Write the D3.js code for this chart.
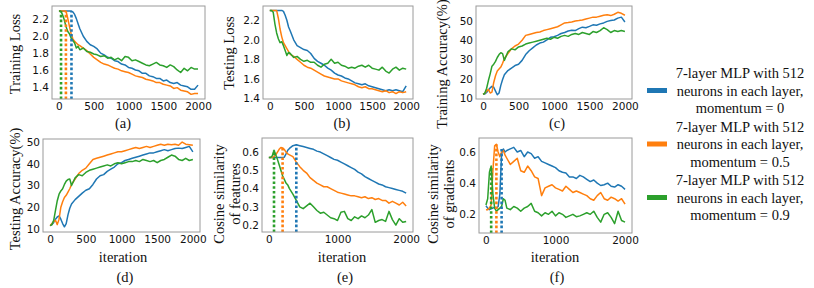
<!DOCTYPE html>
<html>
<head>
<meta charset="utf-8">
<script src="https://cdn.jsdelivr.net/npm/d3@7"></script>
<style>
	body { margin: 0; background: #fff; }
	svg { display: block; }
	.tick text { font-family: "DejaVu Sans", sans-serif; font-size: 10.5px; fill: #111; }
	.lbl { font-family: "Liberation Serif", "Times New Roman", serif; font-size: 14.5px; fill: #111; }
</style>
</head>
<body>
<svg id="chart" width="814" height="288"></svg>
<script>
// iteration grid the curves were read at
const iters = [0, 25, 50, 75, 100, 125, 150, 175, 200, 225, 250, 275, 300,
	350, 400, 450, 500, 550, 600, 650, 700, 750, 800,
	850, 900, 950, 1000, 1050, 1100, 1150, 1200, 1250, 1300,
	1350, 1400, 1450, 1500, 1550, 1600, 1650, 1700, 1750, 1800,
	1850, 1900, 1950, 2000]

const seriesNames = [
	['7-layer MLP with 512', 'neurons in each layer,', 'momentum = 0'],
	['7-layer MLP with 512', 'neurons in each layer,', 'momentum = 0.5'],
	['7-layer MLP with 512', 'neurons in each layer,', 'momentum = 0.9']
]
const colors = ['#1f77b4', '#ff7f0e', '#2ca02c']

// (a) training loss
const trainLoss0 = [2.30, 2.30, 2.30, 2.30, 2.30, 2.30, 2.30, 2.30, 2.29, 2.26, 2.21, 2.15, 2.09,
	2.00, 1.94, 1.90, 1.88, 1.85, 1.80, 1.78, 1.75, 1.74, 1.71,
	1.70, 1.67, 1.66, 1.63, 1.62, 1.60, 1.59, 1.56, 1.56, 1.53,
	1.52, 1.50, 1.50, 1.47, 1.48, 1.45, 1.44, 1.45, 1.42, 1.41,
	1.40, 1.37, 1.37, 1.42]
const trainLoss05 = [2.30, 2.30, 2.30, 2.30, 2.30, 2.22, 2.12, 2.03, 1.97, 1.94, 1.92, 1.90, 1.89,
	1.86, 1.83, 1.79, 1.75, 1.72, 1.69, 1.67, 1.66, 1.64, 1.62,
	1.61, 1.59, 1.58, 1.57, 1.55, 1.53, 1.52, 1.51, 1.49, 1.48,
	1.47, 1.45, 1.45, 1.43, 1.42, 1.41, 1.38, 1.39, 1.36, 1.35,
	1.34, 1.31, 1.32, 1.32]
const trainLoss09 = [2.30, 2.30, 2.26, 2.20, 2.12, 2.06, 2.03, 1.98, 1.95, 1.92, 1.86, 1.88, 1.84,
	1.86, 1.82, 1.81, 1.79, 1.78, 1.76, 1.77, 1.74, 1.75, 1.72,
	1.74, 1.71, 1.76, 1.75, 1.71, 1.72, 1.70, 1.68, 1.66, 1.65,
	1.67, 1.69, 1.66, 1.65, 1.63, 1.66, 1.64, 1.60, 1.57, 1.62,
	1.59, 1.63, 1.61, 1.61]
const trainLossMarks = [[180, 2.30], [100, 2.30], [30, 2.30]]

// (b) testing loss
const testLoss0 = [2.30, 2.30, 2.30, 2.30, 2.30, 2.30, 2.30, 2.30, 2.29, 2.25, 2.20, 2.13, 2.09,
	2.00, 1.94, 1.92, 1.90, 1.89, 1.86, 1.81, 1.78, 1.76, 1.74,
	1.71, 1.69, 1.66, 1.64, 1.63, 1.61, 1.60, 1.58, 1.56, 1.55,
	1.54, 1.55, 1.53, 1.52, 1.51, 1.50, 1.49, 1.48, 1.49, 1.48,
	1.49, 1.48, 1.47, 1.53]
const testLoss05 = [2.30, 2.30, 2.30, 2.30, 2.30, 2.22, 2.11, 2.03, 1.97, 1.94, 1.91, 1.88, 1.85,
	1.83, 1.80, 1.77, 1.74, 1.72, 1.71, 1.69, 1.67, 1.65, 1.63,
	1.62, 1.61, 1.60, 1.60, 1.58, 1.57, 1.56, 1.55, 1.54, 1.52,
	1.51, 1.52, 1.50, 1.50, 1.49, 1.48, 1.47, 1.48, 1.46, 1.47,
	1.45, 1.47, 1.46, 1.47]
const testLoss09 = [2.30, 2.30, 2.28, 2.16, 2.07, 2.01, 1.97, 1.98, 1.94, 1.89, 1.84, 1.87, 1.86,
	1.82, 1.83, 1.80, 1.78, 1.79, 1.77, 1.77, 1.74, 1.72, 1.75,
	1.76, 1.80, 1.76, 1.77, 1.74, 1.73, 1.71, 1.72, 1.71, 1.73,
	1.74, 1.72, 1.74, 1.71, 1.70, 1.69, 1.72, 1.68, 1.66, 1.70,
	1.72, 1.69, 1.71, 1.70]

// (c) training accuracy
const trainAcc0 = [11.8, 12.0, 12.8, 14.0, 15.2, 16.0, 15.5, 13.5, 11.6, 12.5, 16.5, 19.5, 22.0,
	24.2, 25.5, 26.8, 27.5, 29.5, 32.5, 34.5, 36.0, 37.5, 38.5,
	39.0, 40.2, 41.5, 41.8, 42.5, 43.5, 44.0, 44.8, 45.2, 45.0,
	46.0, 46.8, 46.5, 47.2, 48.0, 47.8, 48.5, 49.0, 49.8, 50.2,
	50.5, 51.5, 52.0, 49.5]
const trainAcc05 = [11.8, 12.5, 13.5, 14.5, 12.5, 13.0, 18.0, 21.5, 24.0, 25.0, 26.0, 28.0, 30.5,
	33.0, 35.5, 37.0, 38.0, 40.0, 42.5, 43.0, 43.5, 44.0, 44.3,
	45.0, 45.5, 46.0, 46.5, 47.0, 48.0, 49.0, 49.2, 49.5, 50.0,
	50.2, 50.5, 51.0, 51.5, 52.0, 52.0, 52.5, 53.0, 53.2, 52.8,
	53.5, 54.5, 54.0, 53.0]
const trainAcc09 = [11.8, 12.5, 15.0, 19.0, 22.5, 26.5, 27.5, 29.0, 31.0, 32.5, 33.5, 33.0, 29.5,
	34.0, 35.5, 35.0, 36.5, 37.0, 38.0, 38.5, 39.0, 39.5, 40.0,
	40.5, 41.0, 40.5, 41.5, 41.0, 42.0, 42.5, 42.0, 43.0, 43.5,
	43.0, 44.0, 43.5, 43.0, 44.5, 44.0, 45.0, 46.5, 45.5, 44.0,
	45.0, 44.5, 45.0, 44.5]

// (d) testing accuracy
const testAcc0 = [11.5, 12.0, 13.0, 14.5, 15.5, 16.0, 14.5, 12.5, 11.0, 12.5, 16.5, 19.5, 21.5,
	23.5, 25.0, 26.5, 27.8, 28.5, 30.5, 33.0, 34.5, 35.0, 36.5,
	37.5, 38.5, 40.0, 40.5, 41.5, 42.0, 42.5, 43.0, 43.5, 44.0,
	44.5, 45.0, 45.0, 45.5, 46.0, 46.5, 46.0, 46.5, 47.0, 47.2,
	47.0, 47.5, 48.0, 45.5]
const testAcc05 = [11.5, 12.5, 13.5, 14.0, 12.0, 14.5, 20.0, 22.5, 24.5, 25.5, 27.0, 28.5, 30.5,
	33.0, 35.5, 37.0, 38.0, 40.0, 42.0, 42.5, 43.0, 43.5, 44.0,
	44.5, 45.0, 45.5, 45.5, 46.0, 46.5, 47.0, 47.5, 47.0, 47.5,
	48.0, 47.5, 48.0, 48.5, 49.0, 48.5, 49.0, 48.8, 49.0, 48.5,
	50.0, 49.0, 48.8, 48.5]
const testAcc09 = [11.5, 12.0, 14.0, 18.5, 23.0, 26.0, 27.5, 28.5, 30.5, 32.0, 32.8, 33.0, 30.0,
	33.5, 35.0, 34.5, 36.0, 37.0, 37.5, 38.0, 38.5, 39.0, 39.5,
	39.0, 40.0, 40.5, 40.0, 40.5, 41.0, 41.0, 41.5, 41.0, 42.0,
	41.5, 41.0, 41.5, 40.5, 41.5, 42.0, 43.0, 44.0, 43.5, 42.0,
	41.5, 42.5, 41.5, 42.0]

// (e) cosine similarity of features
const cosFeat0 = [0.570, 0.570, 0.570, 0.570, 0.570, 0.570, 0.570, 0.570, 0.570, 0.572, 0.590, 0.610, 0.620,
	0.635, 0.640, 0.635, 0.630, 0.625, 0.620, 0.615, 0.605, 0.600, 0.590,
	0.580, 0.570, 0.560, 0.555, 0.545, 0.535, 0.525, 0.515, 0.505, 0.490,
	0.480, 0.465, 0.455, 0.445, 0.435, 0.425, 0.420, 0.410, 0.405, 0.400,
	0.395, 0.390, 0.385, 0.375]
const cosFeat05 = [0.570, 0.570, 0.570, 0.575, 0.585, 0.600, 0.615, 0.625, 0.622, 0.615, 0.600, 0.590, 0.585,
	0.575, 0.545, 0.520, 0.500, 0.485, 0.460, 0.445, 0.430, 0.420, 0.410,
	0.410, 0.400, 0.390, 0.380, 0.375, 0.370, 0.365, 0.360, 0.360, 0.355,
	0.350, 0.355, 0.345, 0.350, 0.340, 0.345, 0.335, 0.335, 0.320, 0.330,
	0.320, 0.310, 0.325, 0.305]
const cosFeat09 = [0.570, 0.570, 0.580, 0.610, 0.585, 0.560, 0.530, 0.500, 0.470, 0.450, 0.430, 0.420, 0.400,
	0.370, 0.335, 0.300, 0.290, 0.305, 0.320, 0.300, 0.280, 0.265, 0.270,
	0.255, 0.240, 0.235, 0.225, 0.270, 0.275, 0.235, 0.225, 0.245, 0.235,
	0.250, 0.240, 0.255, 0.285, 0.215, 0.225, 0.230, 0.220, 0.275, 0.230,
	0.200, 0.235, 0.215, 0.220]
const cosFeatMarks = [[400, 0.640], [200, 0.625], [75, 0.610]]

// (f) cosine similarity of gradients
const cosGrad0 = [0.255, 0.240, 0.230, 0.235, 0.240, 0.245, 0.240, 0.250, 0.330, 0.590, 0.620, 0.600, 0.610,
	0.620, 0.630, 0.600, 0.610, 0.570, 0.600, 0.590, 0.560, 0.570, 0.540,
	0.530, 0.520, 0.510, 0.500, 0.480, 0.470, 0.465, 0.440, 0.440, 0.430,
	0.450, 0.440, 0.425, 0.410, 0.420, 0.400, 0.385, 0.390, 0.400, 0.380,
	0.375, 0.390, 0.380, 0.360]
const cosGrad05 = [0.230, 0.230, 0.240, 0.260, 0.480, 0.640, 0.650, 0.600, 0.570, 0.600, 0.610, 0.580, 0.560,
	0.520, 0.540, 0.560, 0.480, 0.470, 0.510, 0.480, 0.440, 0.430, 0.320,
	0.370, 0.380, 0.390, 0.370, 0.360, 0.350, 0.380, 0.360, 0.340, 0.350,
	0.340, 0.330, 0.320, 0.300, 0.290, 0.320, 0.340, 0.300, 0.290, 0.310,
	0.300, 0.285, 0.300, 0.265]
const cosGrad09 = [0.260, 0.300, 0.470, 0.510, 0.330, 0.240, 0.220, 0.230, 0.240, 0.250, 0.300, 0.290, 0.240,
	0.230, 0.250, 0.240, 0.220, 0.240, 0.250, 0.270, 0.220, 0.210, 0.190,
	0.210, 0.200, 0.220, 0.190, 0.210, 0.200, 0.180, 0.190, 0.200, 0.185,
	0.190, 0.200, 0.210, 0.200, 0.220, 0.180, 0.150, 0.200, 0.210, 0.180,
	0.140, 0.220, 0.160, 0.150]
const cosGradMarks = [[225, 0.620], [150, 0.650], [75, 0.510]]

// tick labels
const xTicksFull = [0, 500, 1000, 1500, 2000]
const xTicksCoarse = [0, 1000, 2000]
const lossTicks = [1.4, 1.6, 1.8, 2.0, 2.2]
const accTicks = [10, 20, 30, 40, 50]
const cosFeatTicks = [0.2, 0.3, 0.4, 0.5, 0.6]
const cosGradTicks = [0.2, 0.4, 0.6]

const svg = d3.select('#chart')

// panel boxes (pixel layout) + what goes in them
const panels = [
	{ box: [52, 6, 205, 99], y: [1.255, 2.36], yTicks: lossTicks, fmt: '.1f', xTicks: xTicksFull,
		series: [trainLoss0, trainLoss05, trainLoss09], marks: trainLossMarks,
		ylabel: ['Training Loss'], ylx: [15], yly: 54, cap: '(a)', capPos: [123, 123] },
	{ box: [263, 6, 413, 99], y: [1.395, 2.345], yTicks: lossTicks, fmt: '.1f', xTicks: xTicksFull,
		series: [testLoss0, testLoss05, testLoss09],
		ylabel: ['Testing Loss'], ylx: [229], yly: 53, cap: '(b)', capPos: [342, 123] },
	{ box: [476, 6, 632, 99], y: [9.4, 57.8], yTicks: accTicks, fmt: 'd', xTicks: xTicksFull,
		series: [trainAcc0, trainAcc05, trainAcc09],
		ylabel: ['Training Accuracy(%)'], ylx: [442], yly: 64, cap: '(c)', capPos: [557, 123] },
	{ box: [43, 139, 200, 232], y: [8.6, 51.4], yTicks: accTicks, fmt: 'd', xTicks: xTicksFull,
		series: [testAcc0, testAcc05, testAcc09],
		ylabel: ['Testing Accuracy(%)'], ylx: [15], yly: 189, xlabel: 'iteration', xlPos: [123, 257],
		cap: '(d)', capPos: [125, 277] },
	{ box: [262, 138, 413, 232], y: [0.162, 0.677], yTicks: cosFeatTicks, fmt: '.1f', xTicks: xTicksCoarse,
		series: [cosFeat0, cosFeat05, cosFeat09], marks: cosFeatMarks,
		ylabel: ['Cosine similarity', 'of features'], ylx: [219, 235], yly: 194, xlabel: 'iteration', xlPos: [342, 257],
		cap: '(e)', capPos: [345, 277] },
	{ box: [479, 138, 632, 233], y: [0.08, 0.69], yTicks: cosGradTicks, fmt: '.1f', xTicks: xTicksCoarse,
		series: [cosGrad0, cosGrad05, cosGrad09], marks: cosGradMarks,
		ylabel: ['Cosine similarity', 'of gradients'], ylx: [433, 449], yly: 194, xlabel: 'iteration', xlPos: [555, 257],
		cap: '(f)', capPos: [557, 277] }
]

function drawPanel(p) {
	const [x0, y0, x1, y1] = p.box
	const x = d3.scaleLinear().domain([-100, 2100]).range([x0, x1])
	const y = d3.scaleLinear().domain(p.y).range([y1, y0])
	const g = svg.append('g')

	const line = d3.line()
		.x((d, i) => x(iters[i]))
		.y(d => y(d))

	p.series.forEach((s, k) => {
		g.append('path')
			.datum(s)
			.attr('fill', 'none')
			.attr('stroke', colors[k])
			.attr('stroke-width', 1.5)
			.attr('stroke-linejoin', 'round')
			.attr('d', line)
	})

	// dotted markers: from the bottom of the axes up to the curve
	if (p.marks) {
		p.marks.forEach((m, k) => {
			g.append('line')
				.attr('x1', x(m[0])).attr('x2', x(m[0]))
				.attr('y1', y1).attr('y2', y(m[1]))
				.attr('stroke', colors[k])
				.attr('stroke-width', 2.6)
				.attr('stroke-dasharray', '2.6,2.2')
		})
	}

	g.append('rect')
		.attr('x', x0).attr('y', y0)
		.attr('width', x1 - x0).attr('height', y1 - y0)
		.attr('fill', 'none')
		.attr('stroke', '#9a9a9a')
		.attr('stroke-width', 1)

	const ax = g.append('g')
		.attr('transform', `translate(0,${y1})`)
		.call(d3.axisBottom(x).tickValues(p.xTicks).tickSize(0).tickPadding(4).tickFormat(d3.format('d')))
	ax.select('.domain').remove()

	const ay = g.append('g')
		.attr('transform', `translate(${x0},0)`)
		.call(d3.axisLeft(y).tickValues(p.yTicks).tickSize(0).tickPadding(3).tickFormat(d3.format(p.fmt)))
	ay.select('.domain').remove()

	p.ylabel.forEach((t, i) => {
		g.append('text')
			.attr('class', 'lbl')
			.attr('transform', `translate(${p.ylx[i]},${p.yly}) rotate(-90)`)
			.attr('text-anchor', 'middle')
			.attr('dominant-baseline', 'central')
			.text(t)
	})

	if (p.xlabel) {
		g.append('text')
			.attr('class', 'lbl')
			.attr('x', p.xlPos[0]).attr('y', p.xlPos[1])
			.attr('text-anchor', 'middle')
			.attr('dominant-baseline', 'central')
			.text(p.xlabel)
	}

	g.append('text')
		.attr('class', 'lbl')
		.attr('x', p.capPos[0]).attr('y', p.capPos[1])
		.attr('text-anchor', 'middle')
		.attr('dominant-baseline', 'central')
		.text(p.cap)
}

panels.forEach(drawPanel)

// legend on the right
const legend = svg.append('g')
seriesNames.forEach((lines, k) => {
	const top = 73 + k * 53.5
	legend.append('rect')
		.attr('x', 647).attr('y', top + 17.5 - 2.5)
		.attr('width', 20).attr('height', 5)
		.attr('fill', colors[k])
	lines.forEach((t, i) => {
		legend.append('text')
			.attr('class', 'lbl')
			.attr('x', 740).attr('y', top + i * 17.5)
			.attr('text-anchor', 'middle')
			.attr('dominant-baseline', 'central')
			.text(t)
	})
})
</script>
</body>
</html>
